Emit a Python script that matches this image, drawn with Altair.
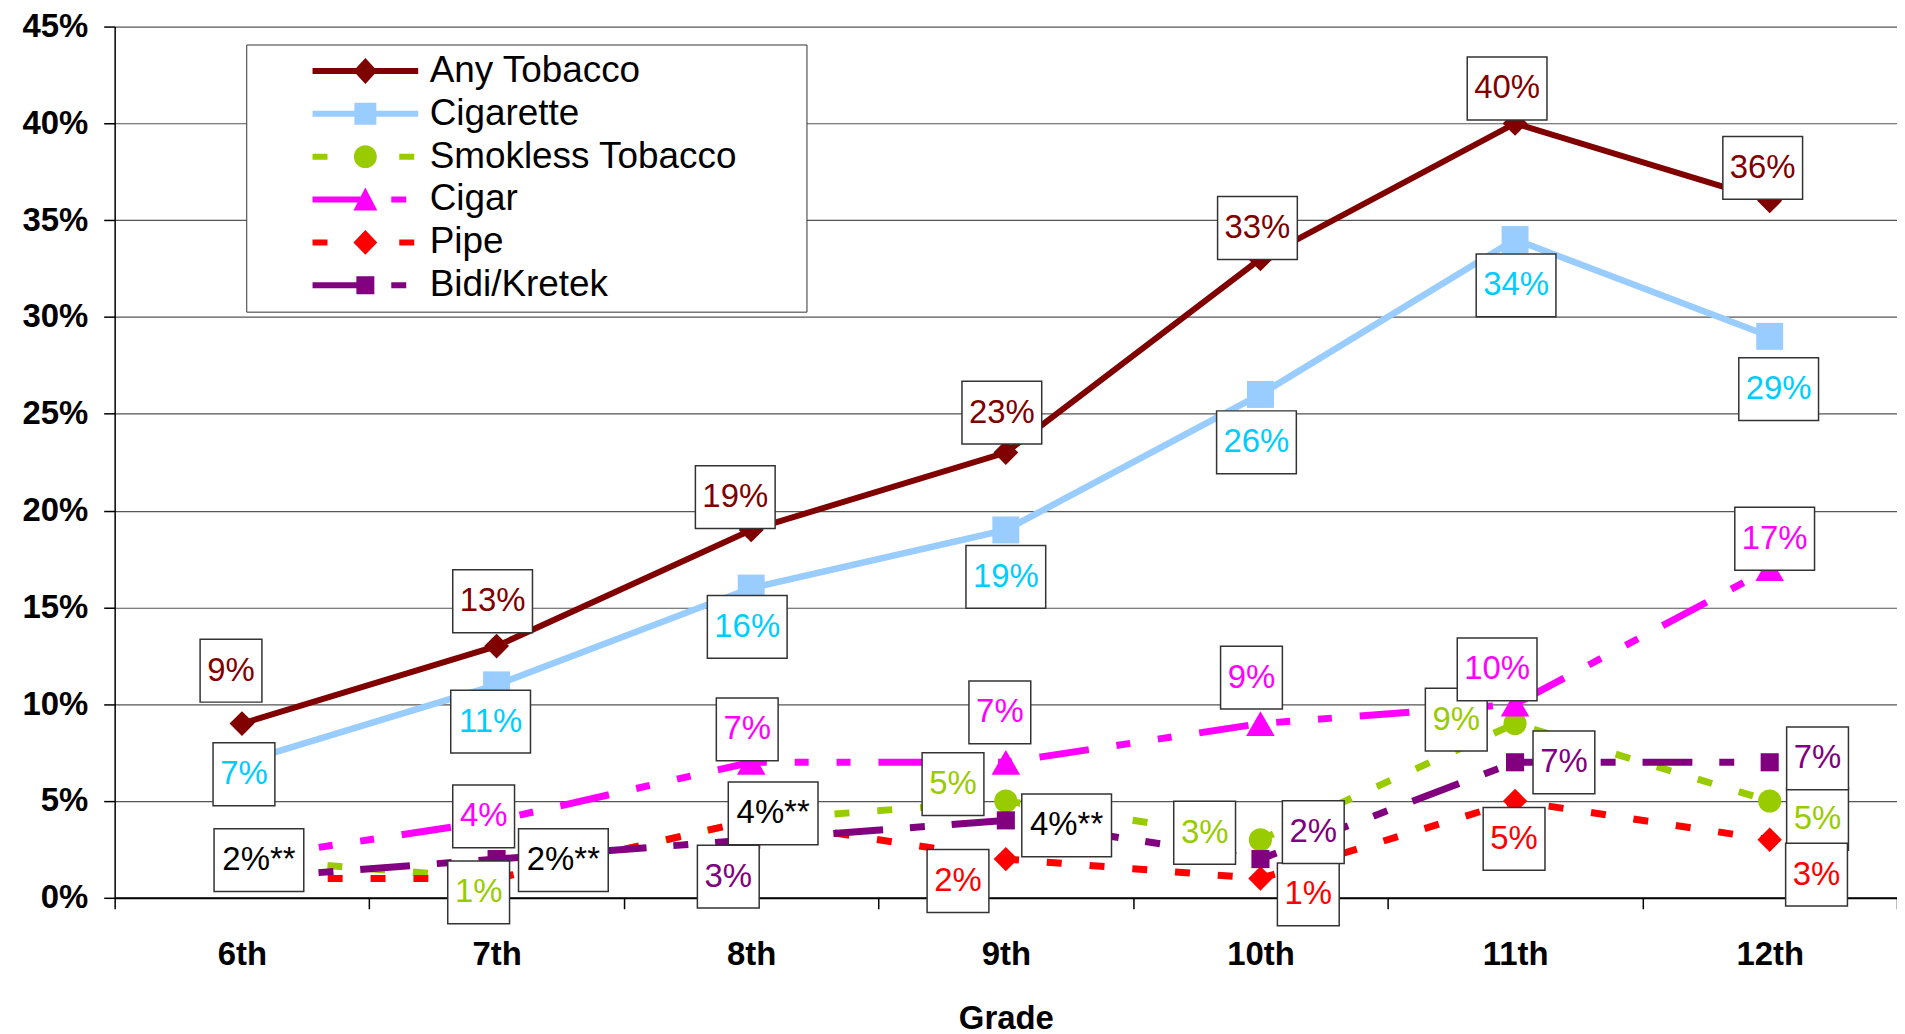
import altair as alt
import pandas as pd

# ---------------- data ----------------
GRADES = ["6th", "7th", "8th", "9th", "10th", "11th", "12th"]
SERIES = ["Any Tobacco", "Cigarette", "Smokless Tobacco", "Cigar", "Pipe", "Bidi/Kretek"]

ANY_TOBACCO = [9, 13, 19, 23, 33, 40, 36]
CIGARETTE = [7, 11, 16, 19, 26, 34, 29]
SMOKELESS = [2, 1, 4, 5, 3, 9, 5]
CIGAR = [2, 4, 7, 7, 9, 10, 17]
PIPE = [1, 1, 4, 2, 1, 5, 3]
BIDI = [1, 2, 3, 4, 2, 7, 7]
VALUES = [ANY_TOBACCO, CIGARETTE, SMOKELESS, CIGAR, PIPE, BIDI]

# data-label status per point: "n" plain label, "f" flagged (**) label, None = no label
LBL_ANY = ["n", "n", "n", "n", "n", "n", "n"]
LBL_CIG = ["n", "n", "n", "n", "n", "n", "n"]
LBL_SMK = [None, "n", "f", "n", "n", "n", "n"]
LBL_CIGAR = ["f", "n", "n", "n", "n", "n", "n"]
LBL_PIPE = [None, None, None, "n", "n", "n", "n"]
LBL_BIDI = [None, "f", "n", "f", "n", "n", "n"]
LABELS = [LBL_ANY, LBL_CIG, LBL_SMK, LBL_CIGAR, LBL_PIPE, LBL_BIDI]

# ---------------- styles ----------------
COLORS = ["#800000", "#99CCFF", "#99CC00", "#FF00FF", "#FF0000", "#800080"]
TEXT_COLORS = ["#800000", "#00CCFF", "#99CC00", "#FF00FF", "#FF0000", "#800080"]
DASHES = [None, None, [15, 28], [50, 28, 14, 28, 14, 28], [15, 28], [50, 27, 15, 27]]
WIDTHS = [6, 6.5, 7, 7, 7, 7]
SHAPES = ["diamond", "square", "circle", "triangle-up", "diamond", "square"]
SIZES = [620, 730, 540, 820, 600, 330]

# label box offsets (pixels) from the data point
OFF_ANY = [(-11, -53), (-4, -45), (-16, -33), (-4, -40), (-3, -31), (-8, -35), (-7, -33)]
OFF_CIG = [(2, 12), (-6, 37), (-4, 39), (0, 47), (-4, 48), (1, 46), (9, 53)]
OFF_SMK = [None, (-18, 14), (22, -7), (-53, -17), (-56, -7), (-59, -4), (48, 18)]
OFF_CIGAR = [(17, 1), (-13, -4), (-4, -33), (-6, -50), (-9, -46), (-18, -35), (5, -30)]
OFF_PIPE = [None, None, None, (-48, 22), (48, 16), (-1, 38), (47, 35)]
OFF_BIDI = [None, (67, 1), (-23, 37), (61, 5), (53, -27), (49, 0), (48, -4)]
OFFSETS = [OFF_ANY, OFF_CIG, OFF_SMK, OFF_CIGAR, OFF_PIPE, OFF_BIDI]

# legend symbols (pixel-unit paths: line sample + marker)
LEGEND_PATHS = [
    "M0,-3H106V3H0Z M53,-13L65,0L53,13L41,0Z",
    "M0,-3H106V3H0Z M42,-11H64V11H42Z",
    "M0,-3H15V3H0Z M87,-3H102V3H87Z M41.5,0A11.5,11.5 0 1,1 64.5,0A11.5,11.5 0 1,1 41.5,0Z",
    "M0,-3H48V3H0Z M53,-12L65,11H41Z M79,-3H94V3H79Z",
    "M0,-3H15V3H0Z M87,-3H102V3H87Z M53,-12.5L65,0L53,12.5L41,0Z",
    "M0,-3H47V3H0Z M44,-9H62V9H44Z M79,-3H94V3H79Z",
]

FONT = "Liberation Sans"
W, H = 1788, 874
YMAX = 45
BW = W / len(GRADES)
BOX_W = {2: 62, 3: 80, 4: 90}
BOX_H = 63

# ---------------- tables ----------------
rows = []
for s, vals in zip(SERIES, VALUES):
    for g, v in zip(GRADES, vals):
        rows.append({"series": s, "grade": g, "value": v})
df = pd.DataFrame(rows)

lrows = []
for si, s in enumerate(SERIES):
    for gi, g in enumerate(GRADES):
        kind = LABELS[si][gi]
        if kind is None:
            continue
        dx, dy = OFFSETS[si][gi]
        v = VALUES[si][gi]
        txt = f"{v}%" + ("**" if kind == "f" else "")
        bw = BOX_W[min(len(txt), 4)]
        lrows.append({
            "series": s, "grade": g, "value": v, "text": txt,
            "ox": BW / 2 + dx, "oy": dy,
            "tcolor": "#000000" if kind == "f" else TEXT_COLORS[si],
            "box": f"M{-bw/2},{-BOX_H/2}H{bw/2}V{BOX_H/2}H{-bw/2}Z",
        })
ldf = pd.DataFrame(lrows)

# ---------------- encodings ----------------
x_enc = alt.X(
    "grade:N",
    sort=GRADES,
    scale=alt.Scale(type="band", domain=GRADES, paddingInner=0, paddingOuter=0),
    axis=alt.Axis(
        title="Grade", titleFont=FONT, titleFontSize=33, titleFontWeight="bold",
        titlePadding=31, titleColor="black",
        labelFont=FONT, labelFontSize=33, labelFontWeight="bold", labelColor="black",
        labelPadding=30, labelAngle=0, tickBand="extent", tickSize=11, tickColor="black",
        tickWidth=1.5, domainColor="black", domainWidth=2, grid=False,
    ),
)


def y_enc(field):
    return alt.Y(
        f"{field}:Q",
        scale=alt.Scale(domain=[0, YMAX], nice=False, zero=True),
        axis=alt.Axis(
            title=None, values=list(range(0, 50, 5)), labelExpr="datum.value + '%'",
            labelFont=FONT, labelFontSize=33, labelFontWeight="bold", labelColor="black",
            labelPadding=16, tickSize=11, tickColor="black", tickWidth=1.5,
            domainColor="black", domainWidth=1.5,
            grid=True, gridColor="#555555", gridWidth=1.2,
        ),
    )


layers = []
for si, s in enumerate(SERIES):
    sub = alt.Chart(df).transform_filter(alt.datum.series == s)
    lk = dict(color=COLORS[si], strokeWidth=WIDTHS[si], strokeCap="butt")
    if DASHES[si]:
        lk["strokeDash"] = DASHES[si]
    layers.append(sub.mark_line(**lk).encode(x=x_enc, y=y_enc("value")))
    layers.append(
        sub.mark_point(shape=SHAPES[si], size=SIZES[si], filled=True, opacity=1,
                       color=COLORS[si], strokeWidth=0).encode(x=x_enc, y=y_enc("value"))
    )

# label position: data value shifted by a pixel offset converted through the y scale ratio
lab = alt.Chart(ldf).transform_calculate(ly=f"datum.value - datum.oy * {YMAX / H}")
boxes = lab.mark_point(
    filled=True, fill="white", stroke="#333333", strokeWidth=1.5, opacity=1, size=4
).encode(
    x=x_enc, y=y_enc("ly"),
    xOffset=alt.XOffset("ox:Q", scale=None),
    shape=alt.Shape("box:N", scale=None),
)
texts = lab.mark_text(
    font=FONT, fontSize=33, align="center", baseline="middle"
).encode(
    x=x_enc, y=y_enc("ly"),
    xOffset=alt.XOffset("ox:Q", scale=None),
    text="text:N",
    color=alt.Color("tcolor:N", scale=None),
)

legend_layer = alt.Chart(pd.DataFrame({"series": SERIES})).transform_filter("false").mark_point(
    filled=True, opacity=1, size=4, strokeWidth=0
).encode(
    color=alt.Color(
        "series:N", scale=alt.Scale(domain=SERIES, range=COLORS),
        legend=alt.Legend(
            title=".", titleOrient="right", titleOpacity=0, titleFontSize=2, titlePadding=61,
            orient="none", legendX=132, legendY=18, padding=8,
            strokeColor="#333333", fillColor="white",
            symbolSize=4, symbolStrokeWidth=0, symbolOffset=40, labelOffset=99,
            labelFont=FONT, labelFontSize=37, labelColor="black", labelLimit=800,
            rowPadding=5,
        ),
    ),
    shape=alt.Shape("series:N", scale=alt.Scale(domain=SERIES, range=LEGEND_PATHS)),
)

chart = alt.layer(*layers, boxes, texts, legend_layer).properties(
    width=W, height=H,
    autosize=alt.AutoSizeParams(type="none"),
    padding={"left": 107, "top": 17, "right": 0, "bottom": 136},
    background="white",
).configure_view(stroke=None)

chart.save("out.html", embed_options={"renderer": "svg", "actions": False})
